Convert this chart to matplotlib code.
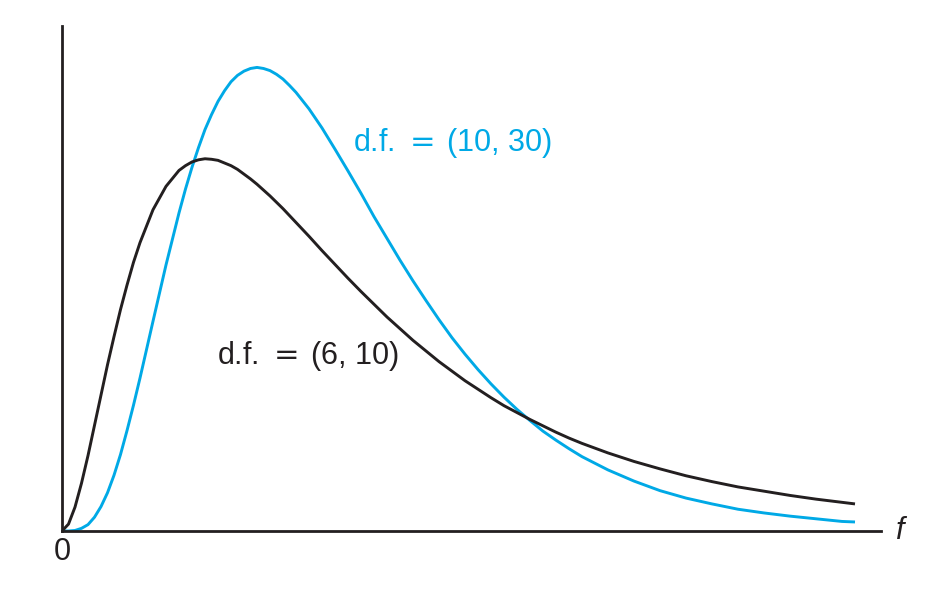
import matplotlib.pyplot as plt

# ---------------- 数据 ----------------
f_vals = [0.0, 0.025, 0.05, 0.075, 0.1, 0.125, 0.15, 0.175, 0.2, 0.225, 0.25, 0.275, 0.3,
          0.35, 0.4, 0.45, 0.475, 0.5, 0.525, 0.55, 0.575, 0.6, 0.625, 0.65, 0.675, 0.7,
          0.725, 0.75, 0.775, 0.8, 0.825, 0.85, 0.875, 0.9, 0.95, 1.0,
          1.05, 1.1, 1.15, 1.2, 1.25, 1.3, 1.35, 1.4, 1.45, 1.5, 1.55, 1.6, 1.65, 1.7,
          1.75, 1.8, 1.85, 1.9, 1.95, 2.0,
          2.1, 2.2, 2.3, 2.4, 2.5, 2.6, 2.7, 2.8, 2.9, 3.0, 3.05]

# d.f. = (6, 10)
dens_6_10 = [0.0, 0.013, 0.045, 0.090, 0.142, 0.199, 0.256, 0.313, 0.366, 0.417, 0.463, 0.506, 0.543,
             0.605, 0.649, 0.679, 0.688, 0.695, 0.699, 0.701, 0.700, 0.698, 0.693, 0.688, 0.681, 0.672,
             0.663, 0.653, 0.642, 0.631, 0.619, 0.607, 0.594, 0.581, 0.555, 0.528,
             0.502, 0.476, 0.451, 0.427, 0.403, 0.381, 0.359, 0.339, 0.319, 0.301, 0.283, 0.267, 0.251, 0.236,
             0.223, 0.210, 0.198, 0.186, 0.175, 0.165,
             0.147, 0.131, 0.117, 0.104, 0.093, 0.083, 0.075, 0.067, 0.060, 0.054, 0.051]

# d.f. = (10, 30)
dens_10_30 = [0.0, 0.000, 0.001, 0.005, 0.012, 0.026, 0.046, 0.072, 0.105, 0.144, 0.189, 0.237, 0.288,
              0.395, 0.501, 0.599, 0.644, 0.685, 0.722, 0.756, 0.784, 0.809, 0.829, 0.846, 0.858, 0.866,
              0.871, 0.873, 0.871, 0.867, 0.860, 0.851, 0.839, 0.826, 0.795, 0.759,
              0.719, 0.678, 0.636, 0.592, 0.551, 0.510, 0.471, 0.434, 0.398, 0.364, 0.333, 0.304, 0.277, 0.252,
              0.229, 0.208, 0.188, 0.171, 0.155, 0.140,
              0.115, 0.094, 0.076, 0.062, 0.051, 0.041, 0.034, 0.028, 0.023, 0.018, 0.017]

label_6_10 = "d.f. $=\\,$(6, 10)"
label_10_30 = "d.f. $=\\,$(10, 30)"

blue = "#00a9e6"
dark = "#231f20"

plt.rcParams['font.family'] = ['Liberation Sans', 'DejaVu Sans']
plt.rcParams['mathtext.fontset'] = 'dejavusans'

fig = plt.figure(figsize=(9.31, 5.92), dpi=100)
ax = fig.add_axes([62 / 931, 61 / 592, 819 / 931, 505 / 592])

ax.plot(f_vals, dens_10_30, color=blue, lw=2.1, solid_joinstyle='round', solid_capstyle='butt')
ax.plot(f_vals, dens_6_10, color=dark, lw=2.1, solid_joinstyle='round', solid_capstyle='butt')

ax.set_xlim(0, 3.15)
ax.set_ylim(0, 0.951)

for s in ['top', 'right']:
    ax.spines[s].set_visible(False)
for s in ['left', 'bottom']:
    ax.spines[s].set_color(dark)
    ax.spines[s].set_linewidth(2.0)
ax.set_xticks([])
ax.set_yticks([])

ax.text(1.119, 0.731, label_10_30, color=blue, fontsize=22, va='center', ha='left')
ax.text(0.596, 0.330, label_6_10, color=dark, fontsize=22, va='center', ha='left')
ax.text(0.0, -0.04, "0", color=dark, fontsize=22, va='center', ha='center', clip_on=False)
ax.text(3.225, 0.0, "f", color=dark, fontsize=22, style='italic',
        va='center', ha='center', clip_on=False)

fig.savefig("out.png", dpi=100)
